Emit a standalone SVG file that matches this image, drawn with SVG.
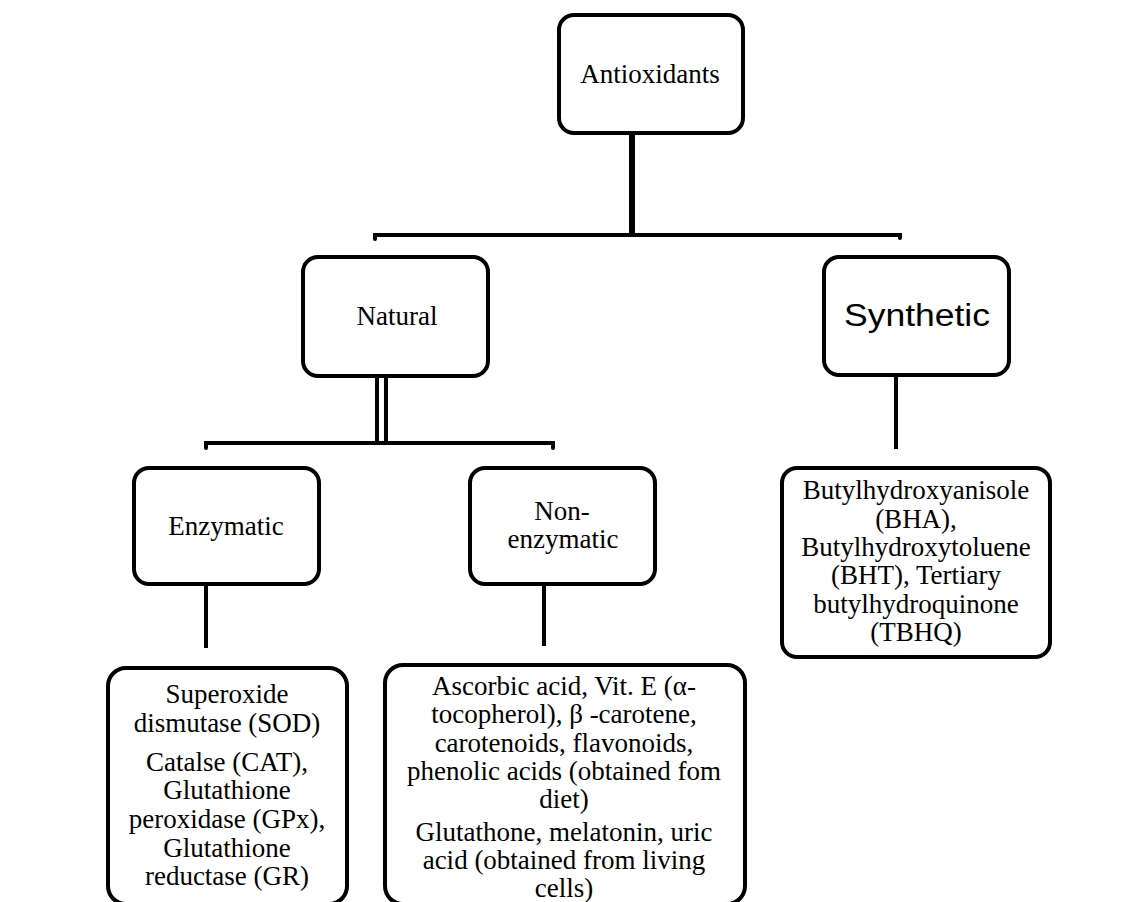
<svg xmlns="http://www.w3.org/2000/svg" width="1138" height="902" viewBox="0 0 1138 902">
<style>
.box{fill:#fff;stroke:#000;stroke-width:4}
.t{font-family:"Liberation Serif","Times New Roman",serif;font-size:27px;fill:#000;text-anchor:middle}
.s{font-family:"Liberation Sans",Arial,sans-serif;font-size:31px;fill:#000;text-anchor:middle}
.c{stroke:#000;stroke-width:4;fill:none;stroke-linecap:round}
</style>
<rect width="1138" height="902" fill="#fff"/>
<g id="connectors">
<line class="c" x1="632" y1="133" x2="632" y2="235" style="stroke-width:6;stroke-linecap:butt"/>
<polyline class="c" points="375,239 375,235 900,235 900,238"/>
<line class="c" x1="377" y1="376" x2="377" y2="443" style="stroke-linecap:butt"/>
<line class="c" x1="386" y1="376" x2="386" y2="443" style="stroke-linecap:butt"/>
<polyline class="c" points="206,448 206,443 553,443 553,448"/>
<line class="c" x1="206" y1="584" x2="206" y2="648" style="stroke-linecap:butt"/>
<line class="c" x1="544" y1="584" x2="544" y2="646" style="stroke-linecap:butt"/>
<line class="c" x1="896" y1="375" x2="896" y2="449" style="stroke-linecap:butt"/>
</g>
<g id="antioxidants">
<rect class="box" x="559" y="15" width="184" height="118" rx="15"/>
<text class="t" x="650" y="83">Antioxidants</text>
</g>
<g id="natural">
<rect class="box" x="303" y="257" width="185" height="119" rx="15"/>
<text class="t" x="397" y="325">Natural</text>
</g>
<g id="synthetic">
<rect class="box" x="824" y="257" width="185" height="118" rx="15"/>
<text class="s" x="917" y="326" textLength="146" lengthAdjust="spacingAndGlyphs">Synthetic</text>
</g>
<g id="enzymatic">
<rect class="box" x="134" y="468" width="185" height="116" rx="15"/>
<text class="t" x="226" y="535">Enzymatic</text>
</g>
<g id="nonenzymatic">
<rect class="box" x="470" y="468" width="185" height="116" rx="15"/>
<text class="t" x="562" y="520">Non-</text>
<text class="t" x="563" y="548">enzymatic</text>
</g>
<g id="synthetic-list">
<rect class="box" x="782" y="468" width="268" height="189" rx="15"/>
<text class="t" x="916" y="499">Butylhydroxyanisole</text>
<text class="t" x="916" y="528">(BHA),</text>
<text class="t" x="916" y="556">Butylhydroxytoluene</text>
<text class="t" x="916" y="584">(BHT), Tertiary</text>
<text class="t" x="916" y="613">butylhydroquinone</text>
<text class="t" x="916" y="641">(TBHQ)</text>
</g>
<g id="enzymatic-list">
<rect class="box" x="108" y="668" width="239" height="236" rx="18"/>
<text class="t" x="227" y="703">Superoxide</text>
<text class="t" x="227" y="732">dismutase (SOD)</text>
<text class="t" x="227" y="771">Catalse (CAT),</text>
<text class="t" x="227" y="799">Glutathione</text>
<text class="t" x="227" y="828">peroxidase (GPx),</text>
<text class="t" x="227" y="857">Glutathione</text>
<text class="t" x="227" y="885">reductase (GR)</text>
</g>
<g id="nonenzymatic-list">
<rect class="box" x="385" y="665" width="360" height="239" rx="18"/>
<text class="t" x="564" y="695">Ascorbic acid, Vit. E (α-</text>
<text class="t" x="564" y="723">tocopherol), β -carotene,</text>
<text class="t" x="564" y="752">carotenoids, flavonoids,</text>
<text class="t" x="564" y="780">phenolic acids (obtained fom</text>
<text class="t" x="564" y="808">diet)</text>
<text class="t" x="564" y="841">Glutathone, melatonin, uric</text>
<text class="t" x="564" y="869">acid (obtained from living</text>
<text class="t" x="564" y="897">cells)</text>
</g>
</svg>
